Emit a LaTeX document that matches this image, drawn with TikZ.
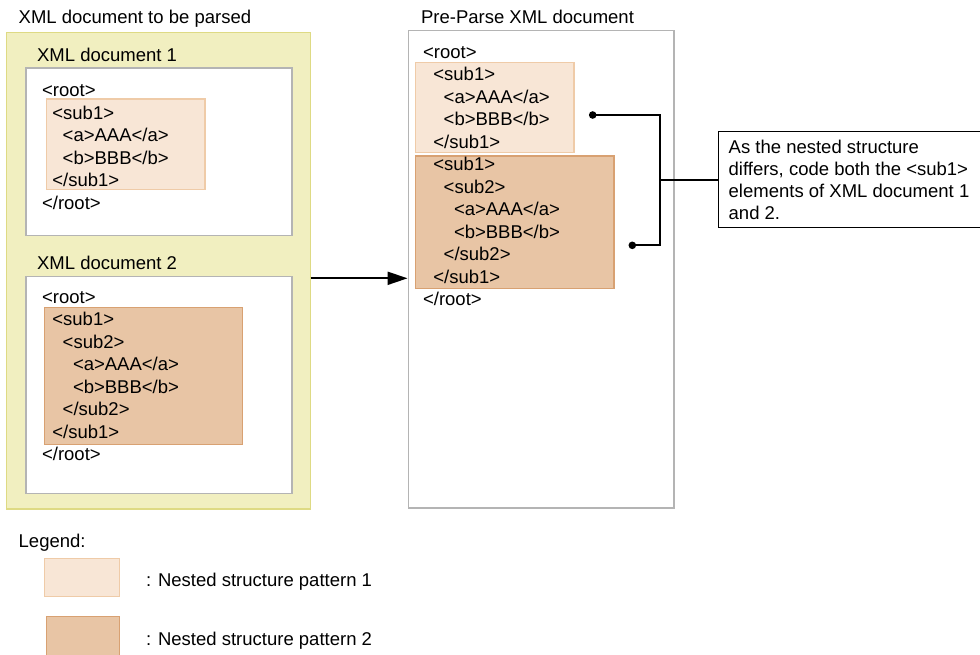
\documentclass[tikz,border=0pt]{standalone}
\usepackage{fontspec}
\setmainfont{Liberation Sans}
\usepackage{tikz}
\usetikzlibrary{arrows.meta, positioning, fit}

\definecolor{yelfill}{HTML}{F1EFC0}
\definecolor{yeldraw}{HTML}{DEDA84}
\definecolor{paleorange}{HTML}{F8E6D6}
\definecolor{paleorangedraw}{HTML}{EFCBA8}
\definecolor{darkorange}{HTML}{E8C5A5}
\definecolor{darkorangedraw}{HTML}{D8A172}
\definecolor{boxgray}{HTML}{B4B4B4}

\begin{document}
\begin{tikzpicture}[
  x=0.5pt, y=-0.5pt,
  >=Latex,
  every node/.style={font=\fontsize{9.25}{11.25}\selectfont, inner sep=0pt},
  outerbox/.style={draw=yeldraw, fill=yelfill, line width=0.75pt},
  docbox/.style={draw=boxgray, fill=white, line width=0.75pt},
  pattern1/.style={draw=paleorangedraw, fill=paleorange, line width=0.75pt},
  pattern2/.style={draw=darkorangedraw, fill=darkorange, line width=0.75pt},
  code/.style={align=left, anchor=north west},
  title/.style={anchor=base west},
  link/.style={line width=1pt}
]
\useasboundingbox (0,0) rectangle (980,654);

% boxes
\node[outerbox, fit={(6.7,32.3) (310.7,509)}] (parsed) {};
\node[docbox, fit={(26,68) (292,235.3)}] (doc1) {};
\node[docbox, fit={(26,276.7) (292,493.3)}] (doc2) {};
\node[docbox, fit={(408.3,30.7) (674,508)}] (pre) {};
\node[pattern1, fit={(46.3,99) (205,189.3)}] (doc1p) {};
\node[pattern2, fit={(44.3,307.7) (242.7,444.3)}] (doc2p) {};
\node[pattern1, fit={(415.7,62.7) (574,152.3)}] (pre1) {};
\node[pattern2, fit={(415.7,156) (614,288.7)}] (pre2) {};

% titles
\node[title] (tparsed) at (18.3,23.5) {XML document to be parsed};
\node[title] (tdoc1) at (36.7,61.5) {XML document 1};
\node[title] (tdoc2) at (36.7,269.5) {XML document 2};
\node[title] (tpre) at (420.7,23.5) {Pre-Parse XML document};

% code
\node[code] (c1) at (41.7,84.5) {<root>\\
\hspace*{5.15pt}<sub1>\\
\hspace*{10.3pt}<a>AAA</a>\\
\hspace*{10.3pt}<b>BBB</b>\\
\hspace*{5.15pt}</sub1>\\
</root>};
\node[code] (c2) at (41.7,291) {<root>\\
\hspace*{5.15pt}<sub1>\\
\hspace*{10.3pt}<sub2>\\
\hspace*{15.45pt}<a>AAA</a>\\
\hspace*{15.45pt}<b>BBB</b>\\
\hspace*{10.3pt}</sub2>\\
\hspace*{5.15pt}</sub1>\\
</root>};
\node[code] (c3) at (422.7,46) {<root>\\
\hspace*{5.15pt}<sub1>\\
\hspace*{10.3pt}<a>AAA</a>\\
\hspace*{10.3pt}<b>BBB</b>\\
\hspace*{5.15pt}</sub1>\\
\hspace*{5.15pt}<sub1>\\
\hspace*{10.3pt}<sub2>\\
\hspace*{15.45pt}<a>AAA</a>\\
\hspace*{15.45pt}<b>BBB</b>\\
\hspace*{10.3pt}</sub2>\\
\hspace*{5.15pt}</sub1>\\
</root>};

% note
\node[draw, line width=0.75pt, fit={(718.3,131.7) (990,227.3)}] (note) {};
\node[code, font=\fontsize{9.25}{11}\selectfont] (notetext) at (728.3,140) {As the nested structure\\
differs, code both the <sub1>\\
elements of XML document 1\\
and 2.};

% connectors
\coordinate (a0) at (310.7,278.3);
\draw[link, ->, >={Triangle[length=10pt, width=6.5pt]}] (a0) -- (a0 -| pre.west);
\coordinate (d1) at (592.7,115);
\coordinate (d2) at (632.3,245.3);
\coordinate (j) at (660,180);
\draw[link] (d1) -| (j) |- (d2);
\draw[link] (j) -- (j -| note.west);
\fill (d1) circle (3.8);
\fill (d2) circle (3.8);

% legend
\node[title] (legend) at (18.3,547) {Legend:};
\node[pattern1, fit={(44.3,558.3) (119.3,596.7)}] (key1) {};
\node[pattern2, fit={(46.7,616.7) (119.3,660)}] (key2) {};
\node[title] (key1text) at (145.7,586) {: Nested structure pattern 1};
\node[title] (key2text) at (145.7,645) {: Nested structure pattern 2};
\end{tikzpicture}
\end{document}
